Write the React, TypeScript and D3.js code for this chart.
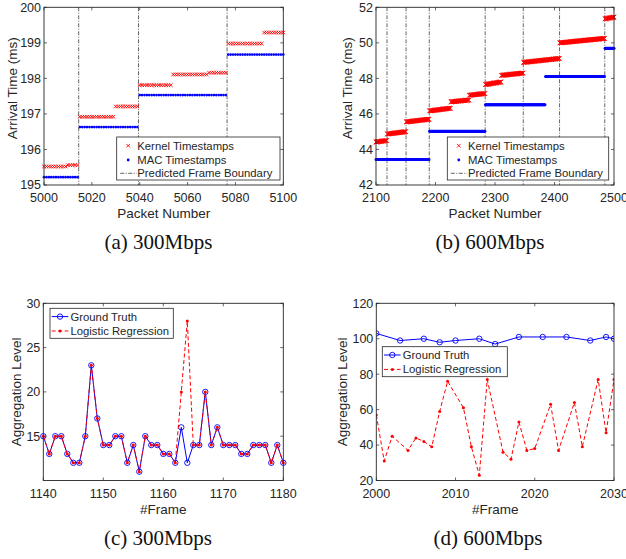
import React from "react";
import * as d3 from "d3";

// (a) 300Mbps segments: [first packet, last packet, value(ms)]
const kernelA = [
  [5000, 5009, 195.52], [5010, 5014, 195.56], [5015, 5029, 196.92], [5030, 5039, 197.21],
  [5040, 5053, 197.81], [5054, 5068, 198.11], [5069, 5076, 198.16], [5077, 5091, 198.98],
  [5092, 5100, 199.29],
];
const macA = [[5000, 5014, 195.22], [5015, 5039, 196.63], [5040, 5076, 197.53], [5077, 5100, 198.67]];
const boundA = [5014.5, 5039.5, 5076.5];

// (b) 600Mbps segments: [first packet, last packet, value at first, value at last]
const kernelB = [
  [2100, 2118, 44.42, 44.5], [2119, 2150, 44.87, 45.0], [2151, 2189, 45.55, 45.7],
  [2190, 2225, 46.17, 46.32], [2226, 2256, 46.68, 46.78], [2257, 2283, 47.05, 47.15],
  [2284, 2310, 47.65, 47.8], [2311, 2347, 48.17, 48.3], [2348, 2408, 48.9, 49.12],
  [2409, 2484, 50.0, 50.25], [2485, 2500, 51.35, 51.45],
];
const macB = [[2100, 2189, 43.44], [2190, 2283, 45.03], [2284, 2384, 46.52], [2385, 2484, 48.11], [2485, 2500, 49.7]];
const boundB = [2118.5, 2150.5, 2189.5, 2283.5, 2347.5, 2408.5, 2484.5];

// (c) 300Mbps, frames 1140..1180
const framesC = d3.range(1140, 1181);
const truthC = [15, 13, 15, 15, 13, 12, 12, 15, 23, 17, 14, 14, 15, 15, 12, 14, 11, 15, 14, 14, 13, 13, 12, 16, 12, 14, 14, 20, 14, 16, 14, 14, 14, 13, 13, 14, 14, 14, 12, 14, 12];
const logitC = [15, 13, 15, 15, 13, 12, 12, 15, 23, 17, 14, 14, 15, 15, 12, 14, 11, 15, 14, 14, 13, 13, 12, 20, 28, 14, 14, 20, 14, 16, 14, 14, 14, 13, 13, 14, 14, 14, 12, 14, 12];

// (d) 600Mbps
const truthDFrames = [2000, 2003, 2006, 2008, 2010, 2013, 2015, 2018, 2021, 2024, 2027, 2029, 2030];
const truthD = [103, 99, 100, 98, 99, 100, 97, 101, 101, 101, 99, 101, 100];
const logitDFrames = [2000, 2001, 2002, 2004, 2005, 2006, 2007, 2008, 2009, 2011, 2012, 2013, 2014, 2016, 2017, 2018, 2019, 2020, 2022, 2023, 2025, 2026, 2028, 2029, 2030];
const logitD = [57, 31, 45, 37, 44, 42, 39, 59, 76, 61, 39, 23, 77, 36, 32, 53, 37, 38, 63, 37, 64, 39, 77, 47, 77];

const INK = "#262626";
const SANS = "'Liberation Sans', Arial, sans-serif";
const DASHDOT = "4,1.5,1,1.5";

const expand = (segs: number[][]) =>
  segs.flatMap(([a, b, v0, v1]) =>
    d3.range(a, b + 1).map((p) => ({
      p,
      v: v1 === undefined || b === a ? v0 : v0 + ((v1 - v0) * (p - a)) / (b - a),
    }))
  );

function Frame({ x, y, xTicks, yTicks, xLabel, yLabel, yLabelX }: any) {
  const [x0, x1] = x.range();
  const [y0, y1] = y.range();
  const t = 3;
  return (
    <g fontFamily={SANS} fill={INK}>
      {xTicks.map((v: number) => (
        <g key={"x" + v}>
          <line x1={x(v)} x2={x(v)} y1={y0} y2={y0 - t} stroke={INK} strokeWidth={0.7} />
          <line x1={x(v)} x2={x(v)} y1={y1} y2={y1 + t} stroke={INK} strokeWidth={0.7} />
          <text x={x(v)} y={y0 + 17} textAnchor="middle" fontSize={12.5}>{v}</text>
        </g>
      ))}
      {yTicks.map((v: number) => (
        <g key={"y" + v}>
          <line x1={x0} x2={x0 + t} y1={y(v)} y2={y(v)} stroke={INK} strokeWidth={0.7} />
          <line x1={x1} x2={x1 - t} y1={y(v)} y2={y(v)} stroke={INK} strokeWidth={0.7} />
          <text x={x0 - 3} y={y(v)} dy="0.35em" textAnchor="end" fontSize={12.5}>{v}</text>
        </g>
      ))}
      <rect x={x0} y={y1} width={x1 - x0} height={y0 - y1} fill="none" stroke={INK} strokeWidth={0.9} />
      <text x={(x0 + x1) / 2} y={y0 + 33} textAnchor="middle" fontSize={13.5}>{xLabel}</text>
      <text transform={`translate(${yLabelX},${(y0 + y1) / 2 - (yLabel.startsWith("Arr") ? 8 : 0)}) rotate(-90)`} dy="0.35em" textAnchor="middle" fontSize={13.5}>{yLabel}</text>
    </g>
  );
}

function Cross({ cx, cy, s = 1.8 }: any) {
  return (
    <path d={`M${cx - s},${cy - s}L${cx + s},${cy + s}M${cx - s},${cy + s}L${cx + s},${cy - s}`} stroke="#ff0000" strokeWidth={0.9} />
  );
}

function StepPanel({ kernel, mac, bounds, xDom, yDom, xr, xTicks, yTicks, yLabelX, legend, cross, dot }: any) {
  const x = d3.scaleLinear().domain(xDom).range(xr);
  const y = d3.scaleLinear().domain(yDom).range([185, 7.3]);
  const kPts = expand(kernel);
  const mPts = expand(mac);
  const [lx0, lx1, ly0, ly1] = legend;
  const rows = [ly0 + 8.7, ly0 + 23, ly0 + 36.3];
  return (
    <g>
      {bounds.map((b: number) => (
        <line key={b} x1={x(b)} x2={x(b)} y1={y.range()[1]} y2={y.range()[0]} stroke="#222" strokeWidth={0.7} strokeDasharray={DASHDOT} />
      ))}
      {mPts.map((d, i) => (
        <circle key={"m" + i} cx={x(d.p)} cy={y(d.v)} r={dot} fill="#0000ff" />
      ))}
      {kPts.map((d, i) => (
        <Cross key={"k" + i} cx={x(d.p)} cy={y(d.v)} s={cross} />
      ))}
      <Frame x={x} y={y} xTicks={xTicks} yTicks={yTicks} xLabel="Packet Number" yLabel="Arrival Time (ms)" yLabelX={yLabelX} />
      <rect x={lx0} y={ly0} width={lx1 - lx0} height={ly1 - ly0} fill="#fff" stroke={INK} strokeWidth={0.8} />
      <g fontFamily={SANS} fontSize={11.3} fill={INK}>
        <Cross cx={lx0 + 11.5} cy={rows[0]} s={1.8} />
        <circle cx={lx0 + 11.5} cy={rows[1]} r={1.4} fill="#0000ff" />
        <line x1={lx0 + 3.5} x2={lx0 + 20} y1={rows[2]} y2={rows[2]} stroke="#222" strokeWidth={0.7} strokeDasharray={DASHDOT} />
        <text x={lx0 + 20.6} y={rows[0]} dy="0.35em">Kernel Timestamps</text>
        <text x={lx0 + 20.6} y={rows[1]} dy="0.35em">MAC Timestamps</text>
        <text x={lx0 + 20.6} y={rows[2]} dy="0.35em">Predicted Frame Boundary</text>
      </g>
    </g>
  );
}

function LinePanel({ id, tFrames, truth, lFrames, logit, xDom, yDom, xr, xTicks, yTicks, yLabelX, legend, clip }: any) {
  const x = d3.scaleLinear().domain(xDom).range(xr);
  const y = d3.scaleLinear().domain(yDom).range([480.5, 303.3]);
  const tPts = tFrames.map((f: number, i: number) => [f, truth[i]]);
  const lPts = lFrames.map((f: number, i: number) => [f, logit[i]]);
  const line = d3.line<number[]>().x((d) => x(d[0])).y((d) => y(d[1]));
  const [lx0, lx1, ly0, ly1] = legend;
  const r1 = ly0 + 8.3;
  const r2 = ly0 + 22.7;
  return (
    <g>
      <defs>
        <clipPath id={id}>
          <rect x={xr[0]} y={303.3} width={xr[1] - xr[0]} height={480.5 - 303.3} />
        </clipPath>
      </defs>
      <g clipPath={clip ? `url(#${id})` : undefined}>
        <path d={line(tPts) || ""} fill="none" stroke="#0000ff" strokeWidth={1} />
        {tPts.map((d: number[], i: number) => (
          <circle key={"t" + i} cx={x(d[0])} cy={y(d[1])} r={2.7} fill="none" stroke="#0000ff" strokeWidth={0.9} />
        ))}
        <path d={line(lPts) || ""} fill="none" stroke="#ff0000" strokeWidth={1} strokeDasharray="4,2.5" />
        {lPts.map((d: number[], i: number) => (
          <circle key={"l" + i} cx={x(d[0])} cy={y(d[1])} r={1.5} fill="#ff0000" />
        ))}
      </g>
      <Frame x={x} y={y} xTicks={xTicks} yTicks={yTicks} xLabel="#Frame" yLabel="Aggregation Level" yLabelX={yLabelX} />
      <rect x={lx0} y={ly0} width={lx1 - lx0} height={ly1 - ly0} fill="#fff" stroke={INK} strokeWidth={0.8} />
      <g fontFamily={SANS} fontSize={11.3} fill={INK}>
        <line x1={lx0 + 1.7} x2={lx0 + 18.3} y1={r1} y2={r1} stroke="#0000ff" strokeWidth={1} />
        <circle cx={lx0 + 10} cy={r1} r={2.7} fill="none" stroke="#0000ff" strokeWidth={0.9} />
        <line x1={lx0 + 1.7} x2={lx0 + 18.3} y1={r2} y2={r2} stroke="#ff0000" strokeWidth={1} strokeDasharray="4,2.5" />
        <circle cx={lx0 + 10} cy={r2} r={1.5} fill="#ff0000" />
        <text x={lx0 + 20.5} y={r1} dy="0.35em">Ground Truth</text>
        <text x={lx0 + 20.5} y={r2} dy="0.35em">Logistic Regression</text>
      </g>
    </g>
  );
}

const SERIF = "'Liberation Serif', 'Times New Roman', serif";

export default function App() {
  return (
    <svg width={626} height={559} style={{ position: "absolute", left: 0, top: 0, background: "#fff" }}>
      <rect width={626} height={559} fill="#fff" />
      <StepPanel kernel={kernelA} mac={macA} bounds={boundA} xDom={[5000, 5100]} xr={[44, 283.3]} yDom={[195, 200]} cross={1.8} dot={1.35}
        xTicks={d3.range(5000, 5101, 20)} yTicks={d3.range(195, 201, 1)} yLabelX={12} legend={[116.7, 280, 137, 180]} />
      <StepPanel kernel={kernelB} mac={macB} bounds={boundB} xDom={[2100, 2500]} xr={[376, 614]} yDom={[42, 52]} cross={2.3} dot={1.5}
        xTicks={d3.range(2100, 2501, 100)} yTicks={d3.range(42, 53, 2)} yLabelX={347} legend={[447.3, 608.7, 137, 180]} />
      <LinePanel id="clipC" tFrames={framesC} truth={truthC} lFrames={framesC} logit={logitC} xDom={[1140, 1180]} xr={[43.3, 283.3]}
        yDom={[10, 30]} xTicks={d3.range(1140, 1181, 10)} yTicks={[15, 20, 25, 30]} yLabelX={16.7} legend={[50, 173.3, 308.3, 338.3]} clip={false} />
      <LinePanel id="clipD" tFrames={truthDFrames} truth={truthD} lFrames={logitDFrames} logit={logitD} xDom={[2000, 2030]} xr={[376.3, 614]}
        yDom={[20, 120]} xTicks={d3.range(2000, 2031, 10)} yTicks={d3.range(20, 121, 20)} yLabelX={342.3} legend={[382.3, 507.3, 346.7, 376.7]} clip={true} />
      <g fontFamily={SERIF} fontSize={21} fill="#111" textAnchor="middle">
        <text x={158.5} y={249}>(a) 300Mbps</text>
        <text x={490} y={249}>(b) 600Mbps</text>
        <text x={158} y={545}>(c) 300Mbps</text>
        <text x={488} y={545}>(d) 600Mbps</text>
      </g>
    </svg>
  );
}
